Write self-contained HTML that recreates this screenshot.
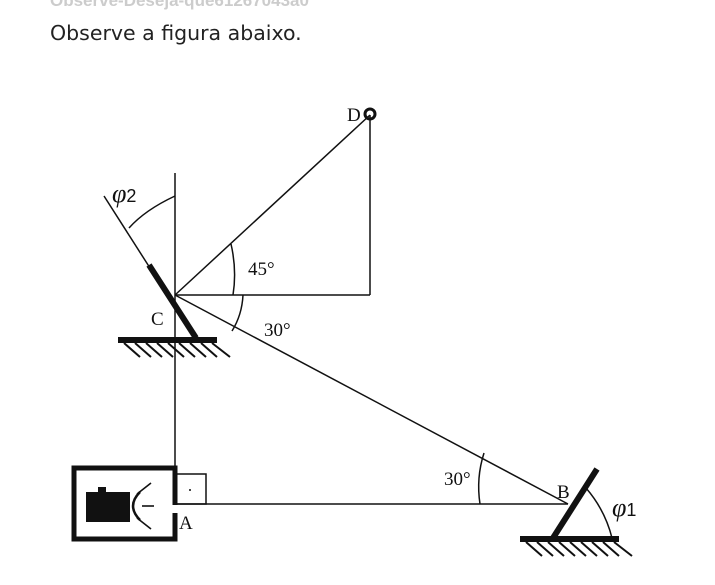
<!DOCTYPE html>
<html><head><meta charset="utf-8"><style>
html,body{margin:0;padding:0;background:#fff;width:715px;height:585px;overflow:hidden}
svg{position:absolute;left:0;top:0}
</style></head><body>
<svg width="715" height="585" viewBox="0 0 715 585" xmlns="http://www.w3.org/2000/svg">
<text x="50" y="6" font-family="Liberation Sans, sans-serif" font-size="17" fill="#ccc" font-weight="bold">Observe-Deseja-que61267043a0</text>
<text x="50" y="40" font-family="DejaVu Sans, sans-serif" font-size="20.5" fill="#222">Observe a figura abaixo.</text>
<g stroke="#111" fill="none" stroke-width="1.5">
<line x1="175" y1="173" x2="175" y2="473"/>
<line x1="175" y1="295" x2="370" y2="115"/>
<line x1="175" y1="295" x2="370" y2="295"/>
<line x1="370" y1="115" x2="370" y2="295"/>
<line x1="175" y1="295" x2="568" y2="504"/>
<line x1="175" y1="504" x2="568" y2="504"/>
<line x1="104" y1="196" x2="150" y2="268"/>
<path d="M175,196 Q145,210 129,228"/>
<path d="M231,244 Q237,270 233,295"/>
<path d="M243,295 Q242,315 232,331"/>
<path d="M484,453 Q476,478 480,504"/>
<path d="M586,488 Q605,510 612,538"/>
<rect x="175" y="474" width="31" height="30"/>
</g>
<circle cx="190" cy="490" r="1" fill="#111"/>
<circle cx="370" cy="114" r="5" fill="none" stroke="#111" stroke-width="3"/>
<line x1="149" y1="265" x2="196" y2="338" stroke="#111" stroke-width="6"/>
<rect x="118" y="337" width="99" height="6" fill="#111"/>
<g stroke="#111" stroke-width="2">
<line x1="124" y1="343" x2="140" y2="357"/><line x1="135" y1="343" x2="151" y2="357"/><line x1="146" y1="343" x2="162" y2="357"/><line x1="157" y1="343" x2="173" y2="357"/><line x1="168" y1="343" x2="184" y2="357"/><line x1="179" y1="343" x2="195" y2="357"/><line x1="190" y1="343" x2="206" y2="357"/><line x1="201" y1="343" x2="217" y2="357"/><line x1="212" y1="343" x2="230" y2="357"/>
</g>
<line x1="553" y1="538" x2="597" y2="469" stroke="#111" stroke-width="6"/>
<rect x="520" y="536" width="99" height="6" fill="#111"/>
<g stroke="#111" stroke-width="2">
<line x1="526" y1="542" x2="542" y2="556"/><line x1="537" y1="542" x2="553" y2="556"/><line x1="548" y1="542" x2="564" y2="556"/><line x1="559" y1="542" x2="575" y2="556"/><line x1="570" y1="542" x2="586" y2="556"/><line x1="581" y1="542" x2="597" y2="556"/><line x1="592" y1="542" x2="608" y2="556"/><line x1="603" y1="542" x2="619" y2="556"/><line x1="614" y1="542" x2="632" y2="556"/>
</g>
<path d="M175,505 L175,468 L74,468 L74,539 L175,539 L175,513" fill="none" stroke="#111" stroke-width="5"/>
<rect x="86" y="492" width="44" height="30" fill="#111"/>
<rect x="98" y="487" width="8" height="6" fill="#111"/>
<path d="M140,492 Q126,506 140,520" fill="none" stroke="#111" stroke-width="2.5"/>
<g stroke="#111" stroke-width="1.6">
<line x1="137" y1="494" x2="151" y2="483"/><line x1="142" y1="506" x2="154" y2="506"/><line x1="137" y1="518" x2="151" y2="529"/>
</g>
<g font-family="Liberation Serif, serif" fill="#111" font-size="19">
<text x="347" y="121">D</text>
<text x="151" y="325">C</text>
<text x="179" y="529">A</text>
<text x="557" y="498">B</text>
<text x="248" y="275">45°</text>
<text x="264" y="336">30°</text>
<text x="444" y="485">30°</text>
<text x="112" y="202" font-style="italic" font-size="26">φ<tspan font-size="18" font-style="normal" font-family="Liberation Sans, sans-serif">2</tspan></text>
<text x="612" y="516" font-style="italic" font-size="26">φ<tspan font-size="18" font-style="normal" font-family="Liberation Sans, sans-serif">1</tspan></text>
</g>
</svg>
</body></html>
